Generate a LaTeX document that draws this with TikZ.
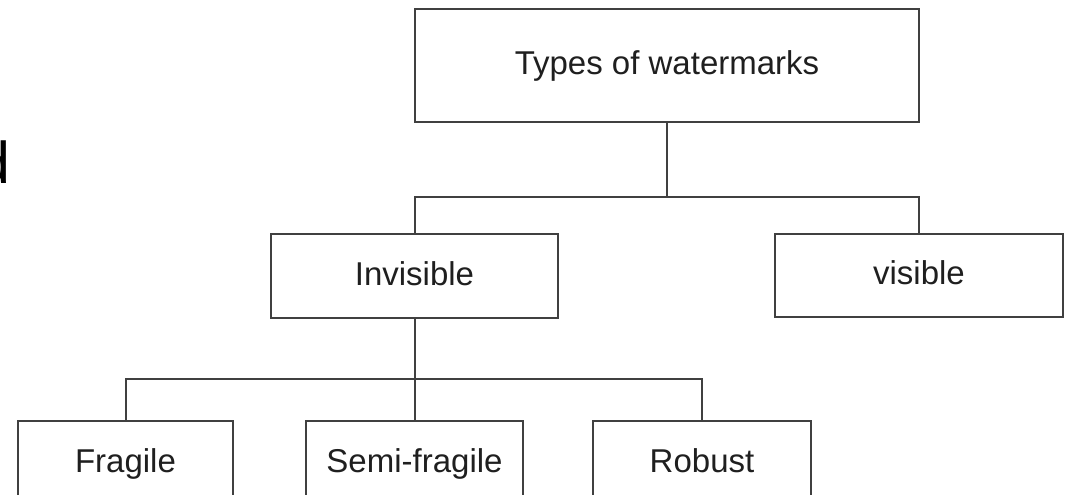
\documentclass[tikz,border=0pt]{standalone}
\usepackage{fontspec}
\setmainfont{Liberation Sans}
\begin{document}
\begin{tikzpicture}[x=1pt,y=1pt,
  box/.style={draw=black!75, line width=2pt, rectangle, inner sep=0pt, text=black!88,
    font=\fontsize{33}{36}\selectfont, text height=24pt, text depth=6pt},
  conn/.style={draw=black!75, line width=2pt}]
\useasboundingbox (0,0) rectangle (1065,-495);
\begin{scope}
\clip (0,0) rectangle (1065,-495);
\node[anchor=base west, inner sep=0pt, font=\fontsize{59}{60}\selectfont] (dd) at (-22.7,-183) {d};

\node[box, minimum width=504pt, minimum height=113pt] (top) at (667,-65.5) {Types of watermarks};
\node[box, minimum width=287pt, minimum height=84pt] (inv) at (414.5,-276) {Invisible};
\node[box, minimum width=288pt, minimum height=83pt] (vis) at (919,-275.5) {visible};
\node[box, minimum width=215pt, minimum height=84pt] (fra) at (125.5,-463) {Fragile};
\node[box, minimum width=217pt, minimum height=84pt] (semi) at (414.5,-463) {Semi-fragile};
\node[box, minimum width=218pt, minimum height=84pt] (rob) at (702,-463) {Robust};

\coordinate (j1) at (667,-197);
\coordinate (j2) at (414.5,-379);
\draw[conn] (top.south) -- (j1);
\draw[conn] (j1) -| (inv.north);
\draw[conn] (j1) -| (vis.north);
\draw[conn] (inv.south) -- (j2);
\draw[conn] (j2) -| (fra.north);
\draw[conn] (j2) -- (semi.north);
\draw[conn] (j2) -| (rob.north);
\end{scope}
\end{tikzpicture}
\end{document}
